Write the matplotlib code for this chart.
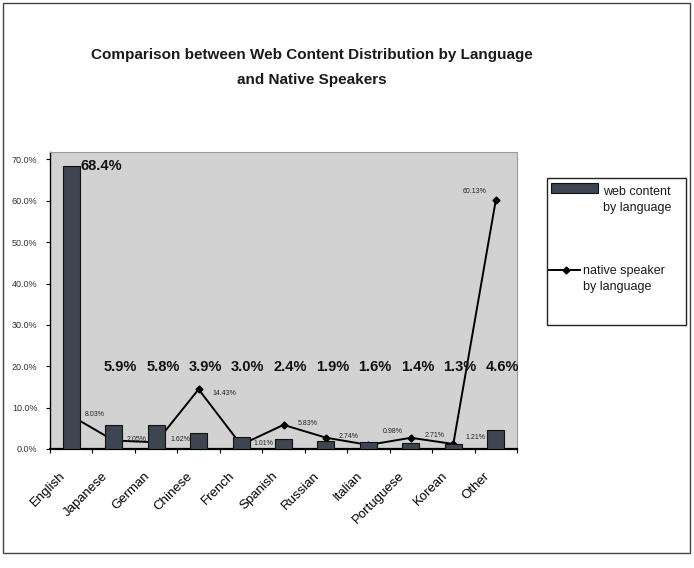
import numpy as np
import matplotlib
matplotlib.use('Agg')
import matplotlib.pyplot as plt
from matplotlib.patches import Rectangle
from matplotlib.lines import Line2D
import matplotlib.transforms as mtransforms

plt.rcParams['font.family'] = ['Liberation Sans', 'DejaVu Sans']

# web content share vs. native speaker share by language
languages = ['English', 'Japanese', 'German', 'Chinese', 'French', 'Spanish',
             'Russian', 'Italian', 'Portuguese', 'Korean', 'Other']
web_content = [68.4, 5.9, 5.8, 3.9, 3.0, 2.4, 1.9, 1.6, 1.4, 1.3, 4.6]
native_speakers = [8.03, 2.05, 1.62, 14.43, 1.01, 5.83, 2.74, 0.98, 2.71, 1.21, 60.13]
yticks = [0, 10, 20, 30, 40, 50, 60, 70]

W, H = 694, 568
fig = plt.figure(figsize=(W / 100, H / 100), dpi=100)

def px(x0, y0, x1, y1):
    # figure-pixel box (top-left origin) -> axes rect
    return [x0 / W, 1 - y1 / H, (x1 - x0) / W, (y1 - y0) / H]

ax = fig.add_axes(px(50, 152, 517, 449))
ax.set_facecolor('#d2d2d2')

x = np.arange(len(languages))
bar_color = '#3d4550'
# line sits behind the columns
ax.plot(x, native_speakers, color='black', linewidth=1.4, marker='D', markersize=3.5,
        zorder=2)
ax.bar(x, web_content, 0.4, color=bar_color, edgecolor='#111111', linewidth=0.8, zorder=3)

ax.set_xlim(-0.5, len(languages) - 0.5)
ax.set_ylim(0, 71.8)

# bar value labels
ax.text(x[0] + 0.22, web_content[0], f'{web_content[0]:.1f}%', fontsize=10.5,
        fontweight='bold', ha='left', va='center', color='#111111', zorder=4)
for xi, v in zip(x[1:], web_content[1:]):
    ax.text(xi + 0.16, 19.8, f'{v:.1f}%', fontsize=10.5, fontweight='bold',
            ha='center', va='center', color='#111111', zorder=4)

# native speaker point labels
offsets = [(10, 1), (9, 1), (10, 2), (10, -3), (9, 1), (10, 1),
           (9, 1), (10, 10), (10, 2), (9, 5), (-24, 6)]
for xi, v, (dx, dy) in zip(x, native_speakers, offsets):
    ax.annotate(f'{v:.2f}%', (xi, v), xytext=(dx, dy), textcoords='offset points',
                fontsize=5, ha='left', va='center', color='#222222', zorder=4)

# ticks between categories, labels at the centres
ax.set_xticks(x)
ax.set_xticklabels(languages, rotation=45, ha='right', va='center',
                   rotation_mode='anchor', fontsize=9.5)
ax.tick_params(axis='x', which='major', length=0, pad=18)
ax.set_xticks(np.arange(len(languages) + 1) - 0.5, minor=True)
ax.tick_params(axis='x', which='minor', length=3, width=0.8, direction='out')
shift = mtransforms.ScaledTranslation(-8 / 100, 0, fig.dpi_scale_trans)
for lab in ax.get_xticklabels():
    lab.set_transform(lab.get_transform() + shift)

ax.set_yticks(yticks)
ax.set_yticklabels([f'{t:.1f}%' for t in yticks], fontsize=6.5, color='#333333')
ax.tick_params(axis='y', length=3, width=0.8, direction='out', pad=6)

ax.spines['bottom'].set_linewidth(1.6)
ax.spines['left'].set_linewidth(1.0)
ax.spines['top'].set_color('#9a9a9a')
ax.spines['right'].set_color('#9a9a9a')

# title
title_x = 312 / W
fig.text(title_x, 1 - 55 / H, 'Comparison between Web Content Distribution by Language',
         ha='center', va='center', fontsize=11, fontweight='bold', color='#1a1a1a')
fig.text(title_x, 1 - 80 / H, 'and Native Speakers',
         ha='center', va='center', fontsize=11, fontweight='bold', color='#1a1a1a')

# legend box drawn by hand
fig.patches.append(Rectangle((547 / W, 1 - 325 / H), 139 / W, 147 / H,
                             transform=fig.transFigure, fill=False,
                             edgecolor='#222222', linewidth=1.0))
fig.patches.append(Rectangle((551 / W, 1 - 193 / H), 47 / W, 10 / H,
                             transform=fig.transFigure, facecolor=bar_color,
                             edgecolor='#111111', linewidth=0.8))
fig.text(603 / W, 1 - 200 / H, 'web content\nby language', ha='left', va='center',
         fontsize=9, color='#1a1a1a', linespacing=1.35)
fig.lines.append(Line2D([549 / W, 580 / W], [1 - 270 / H, 1 - 270 / H],
                        transform=fig.transFigure, color='black', linewidth=1.4))
fig.lines.append(Line2D([566 / W], [1 - 270 / H], transform=fig.transFigure,
                        color='black', marker='D', markersize=3.5))
fig.text(583 / W, 1 - 279 / H, 'native speaker\nby language', ha='left', va='center',
         fontsize=9, color='#1a1a1a', linespacing=1.35)

# outer chart frame
fig.patches.append(Rectangle((3 / W, 1 - 553 / H), 687 / W, 550 / H,
                             transform=fig.transFigure, fill=False,
                             edgecolor='#444444', linewidth=1.0))

fig.savefig('out.png', dpi=100)
